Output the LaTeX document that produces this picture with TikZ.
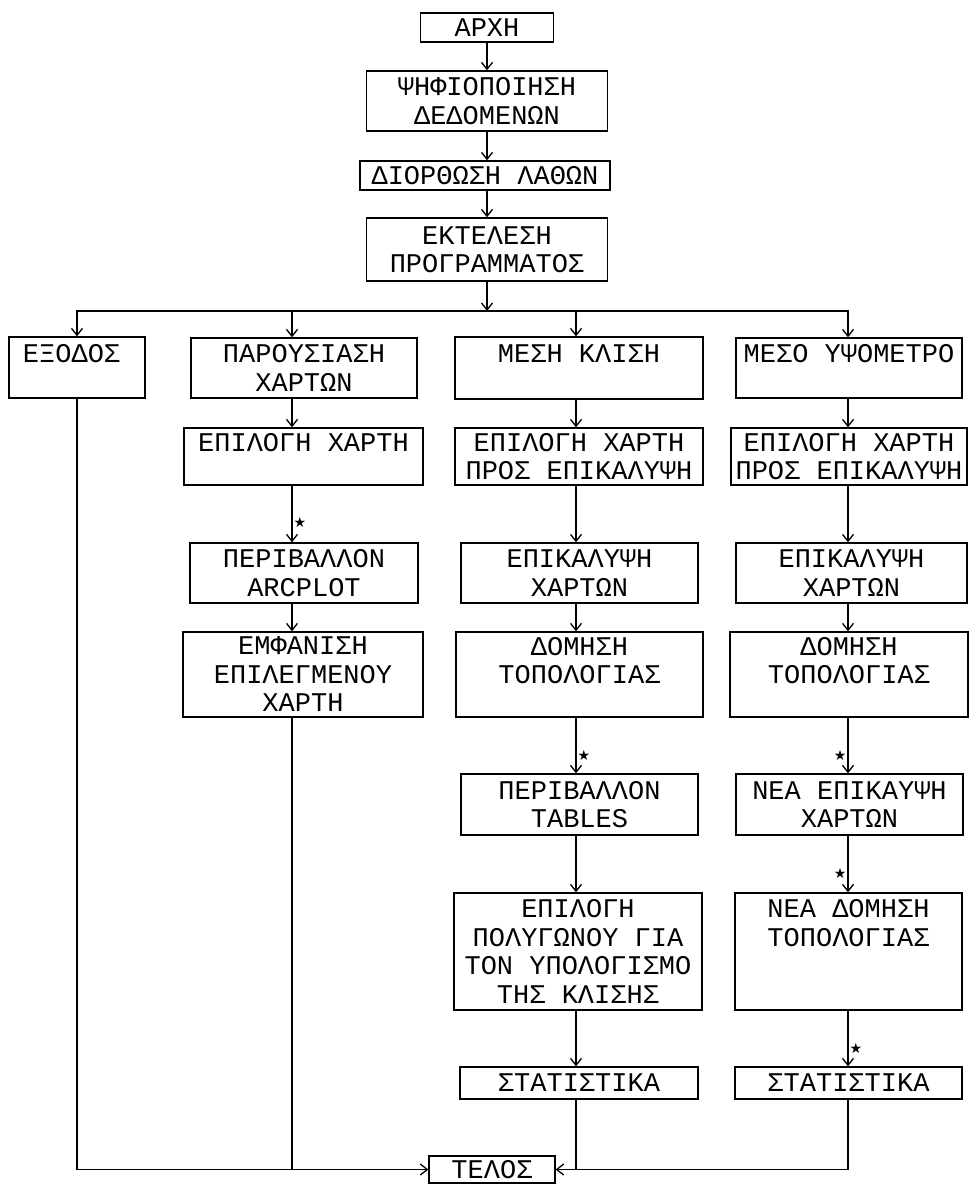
\documentclass[tikz,border=0pt]{standalone}
\usepackage{fontspec}
\newfontfamily\flowfont{Liberation Mono}
\newfontfamily\symfont{DejaVu Sans}
\usetikzlibrary{arrows.meta}

\begin{document}
\begin{tikzpicture}[x=1pt,y=-1pt,
  blk/.style={draw, line width=1.3pt, align=center, inner xsep=2pt, inner ysep=1pt,
    font=\flowfont\fontsize{27}{28.5}\selectfont},
  sz/.style 2 args={minimum width=#1pt, minimum height=#2pt},
  ln/.style={line width=1.3pt},
  arr/.style={ln, -{Straight Barb[length=7pt,width=11pt]}},
  starlbl/.style={inner sep=1pt, font=\symfont\fontsize{14}{14}\selectfont}]
\useasboundingbox (0,0) rectangle (969,1184);
\coordinate (colT) at (487,0);
\coordinate (colA) at (77,0);
\coordinate (colB) at (292,0);
\coordinate (colC) at (576,0);
\coordinate (colD) at (848,0);
\coordinate (split) at (487,311);
\node[blk, sz={133}{29}] (start) at (487,27.5) {ΑΡΧΗ};
\node[blk, sz={241}{60}] (digit) at (487,101) {ΨΗΦΙΟΠΟΙΗΣΗ\\ΔΕΔΟΜΕΝΩΝ};
\node[blk, sz={250}{29}] (fix) at (485,175.5) {ΔΙΟΡΘΩΣΗ ΛΑΘΩΝ};
\node[blk, sz={241}{63}] (run) at (487,249.5) {ΕΚΤΕΛΕΣΗ\\ΠΡΟΓΡΑΜΜΑΤΟΣ};
\node[blk, sz={136}{61}, align=left, text width=108pt] (exit) at (77,367.5) {ΕΞΟΔΟΣ\\~};
\node[blk, sz={226}{60}] (show) at (304,368) {ΠΑΡΟΥΣΙΑΣΗ\\ΧΑΡΤΩΝ};
\node[blk, sz={248}{62}] (slope) at (579,368) {ΜΕΣΗ ΚΛΙΣΗ\\~};
\node[blk, sz={226}{60}] (elev) at (849,368) {ΜΕΣΟ ΥΨΟΜΕΤΡΟ\\~};
\node[blk, sz={239}{57}] (pickB) at (303.5,456.5) {ΕΠΙΛΟΓΗ ΧΑΡΤΗ\\~};
\node[blk, sz={248}{57}] (pickC) at (579,456.5) {ΕΠΙΛΟΓΗ ΧΑΡΤΗ\\ΠΡΟΣ ΕΠΙΚΑΛΥΨΗ};
\node[blk, sz={236}{57}] (pickD) at (849,456.5) {ΕΠΙΛΟΓΗ ΧΑΡΤΗ\\ΠΡΟΣ ΕΠΙΚΑΛΥΨΗ};
\node[blk, sz={228}{60}] (arcplot) at (304,573) {ΠΕΡΙΒΑΛΛΟΝ\\ARCPLOT};
\node[blk, sz={237}{60}] (overC) at (579.5,573) {ΕΠΙΚΑΛΥΨΗ\\ΧΑΡΤΩΝ};
\node[blk, sz={231}{60}] (overD) at (851.5,573) {ΕΠΙΚΑΛΥΨΗ\\ΧΑΡΤΩΝ};
\node[blk, sz={240}{85}] (view) at (303,674.5) {ΕΜΦΑΝΙΣΗ\\ΕΠΙΛΕΓΜΕΝΟΥ\\ΧΑΡΤΗ};
\node[blk, sz={247}{85}] (topoC) at (579.5,674.5) {ΔΟΜΗΣΗ\\ΤΟΠΟΛΟΓΙΑΣ\\~};
\node[blk, sz={238}{85}] (topoD) at (849,674.5) {ΔΟΜΗΣΗ\\ΤΟΠΟΛΟΓΙΑΣ\\~};
\node[blk, sz={237}{61}] (tables) at (579.5,804.5) {ΠΕΡΙΒΑΛΛΟΝ\\TABLES};
\node[blk, sz={227}{61}] (newover) at (849.5,804.5) {ΝΕΑ ΕΠΙΚΑΥΨΗ\\ΧΑΡΤΩΝ};
\node[blk, sz={248}{117}] (poly) at (578,951.5) {ΕΠΙΛΟΓΗ\\ΠΟΛΥΓΩΝΟΥ ΓΙΑ\\ΤΟΝ ΥΠΟΛΟΓΙΣΜΟ\\ΤΗΣ ΚΛΙΣΗΣ};
\node[blk, sz={227}{117}] (newtopo) at (848.5,951.5) {ΝΕΑ ΔΟΜΗΣΗ\\ΤΟΠΟΛΟΓΙΑΣ\\~\\~};
\node[blk, sz={238}{32}] (statC) at (579,1083) {ΣΤΑΤΙΣΤΙΚΑ};
\node[blk, sz={227}{32}] (statD) at (848.5,1083) {ΣΤΑΤΙΣΤΙΚΑ};
\node[blk, sz={126}{27}] (stop) at (492,1169.5) {ΤΕΛΟΣ};
\draw[arr] (start.south -| colT) -- (digit.north -| colT);
\draw[arr] (digit.south -| colT) -- (fix.north -| colT);
\draw[arr] (fix.south -| colT) -- (run.north -| colT);
\draw[arr] (run.south -| colT) -- (split);
\draw[arr] (split) -| (exit.north -| colA);
\draw[arr] (split) -| (show.north -| colB);
\draw[arr] (split) -| (slope.north -| colC);
\draw[arr] (split) -| (elev.north -| colD);
\draw[arr] (show.south -| colB) -- (pickB.north -| colB);
\draw[arr] (pickB.south -| colB) -- node[starlbl, right, pos=0.65] {★} (arcplot.north -| colB);
\draw[arr] (arcplot.south -| colB) -- (view.north -| colB);
\draw[arr] (slope.south -| colC) -- (pickC.north -| colC);
\draw[arr] (pickC.south -| colC) -- (overC.north -| colC);
\draw[arr] (overC.south -| colC) -- (topoC.north -| colC);
\draw[arr] (topoC.south -| colC) -- node[starlbl, right, pos=0.67] {★} (tables.north -| colC);
\draw[arr] (tables.south -| colC) -- (poly.north -| colC);
\draw[arr] (poly.south -| colC) -- (statC.north -| colC);
\draw[arr] (elev.south -| colD) -- (pickD.north -| colD);
\draw[arr] (pickD.south -| colD) -- (overD.north -| colD);
\draw[arr] (overD.south -| colD) -- (topoD.north -| colD);
\draw[arr] (topoD.south -| colD) -- node[starlbl, left, pos=0.67] {★} (newover.north -| colD);
\draw[arr] (newover.south -| colD) -- node[starlbl, left, pos=0.66] {★} (newtopo.north -| colD);
\draw[arr] (newtopo.south -| colD) -- node[starlbl, right, pos=0.67] {★} (statD.north -| colD);
\draw[arr] (exit.south -| colA) |- (stop.west);
\draw[ln] (view.south -| colB) -- (colB |- stop.west);
\draw[ln] (statC.south -| colC) -- (colC |- stop.east);
\draw[arr] (statD.south -| colD) |- (stop.east);
\end{tikzpicture}
\end{document}
